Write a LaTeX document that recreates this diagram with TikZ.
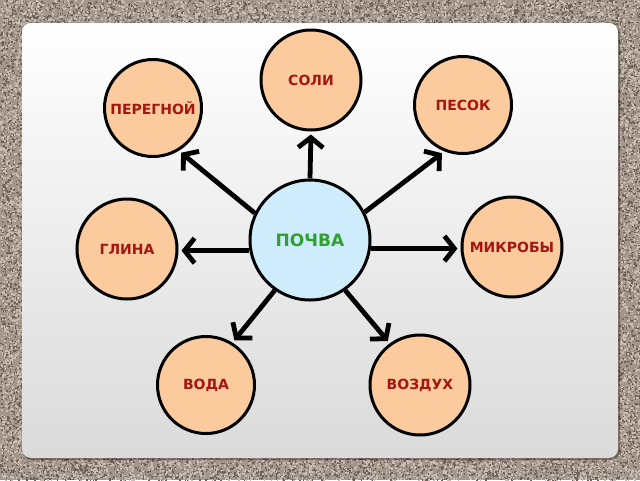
\documentclass[tikz,border=0pt]{standalone}
\usepackage{fontspec}
\setmainfont{DejaVu Sans}
\usetikzlibrary{arrows.meta}
\definecolor{bgbase}{RGB}{163,150,138}
\definecolor{bgdark}{RGB}{110,98,88}
\definecolor{bglight}{RGB}{200,190,180}
\definecolor{panelbot}{RGB}{218,218,218}
\definecolor{peach}{RGB}{251,203,158}
\definecolor{skyfill}{RGB}{206,236,251}
\definecolor{lblred}{RGB}{165,22,18}
\definecolor{lblgreen}{RGB}{48,160,48}
\newcommand\mynoise[6]{%
  \foreach \i in {1,...,#5}{%
    \pgfmathsetmacro\xx{#1+rnd*#3}%
    \pgfmathsetmacro\yy{#2+rnd*#4}%
    \fill[#6] (\xx,\yy) rectangle ++(1.6,1.6);}}
\begin{document}
\begin{tikzpicture}[x=1pt,y=-1pt,
  leaf/.style={circle, draw=black, line width=3pt, fill=peach, minimum size=97pt,
    inner sep=0pt, text=lblred, font=\bfseries\fontsize{14}{15}\selectfont},
  hub/.style={circle, draw=black, line width=3pt, fill=skyfill, minimum size=120pt,
    inner sep=0pt, text=lblgreen, font=\bfseries\fontsize{17}{18}\selectfont},
  conn/.style={draw=black, line width=4.8pt,
    -{Straight Barb[length=10pt,width=25pt,sep=3pt]}}]
\useasboundingbox (0,0) rectangle (640,480);
\fill[bgbase] (0,0) rectangle (640,480);
\pgfmathsetseed{12}
\mynoise{0}{0}{640}{24}{1600}{bgdark}
\mynoise{0}{0}{640}{24}{1600}{bglight}
\mynoise{0}{457}{640}{23}{1600}{bgdark}
\mynoise{0}{457}{640}{23}{1600}{bglight}
\mynoise{0}{24}{22}{433}{1000}{bgdark}
\mynoise{0}{24}{22}{433}{1000}{bglight}
\mynoise{618}{24}{22}{433}{1000}{bgdark}
\mynoise{618}{24}{22}{433}{1000}{bglight}
\fill[black, opacity=0.35, rounded corners=9pt] (23,25) rectangle (620,460);
\shade[top color=white, bottom color=panelbot, rounded corners=9pt] (22,23) rectangle (618,458);
% nodes
\node[hub] (pochva) at (310,240) {ПОЧВА};
\node[leaf, minimum size=100pt] (soli) at (311,80) {СОЛИ};
\node[leaf] (peregnoy) at (153,108) {ПЕРЕГНОЙ};
\node[leaf] (pesok) at (463,105) {ПЕСОК};
\node[leaf, minimum size=100pt] (glina) at (127,249) {ГЛИНА};
\node[leaf, minimum size=100pt] (mikroby) at (512,247) {МИКРОБЫ};
\node[leaf] (voda) at (206,385) {ВОДА};
\node[leaf, minimum size=100pt] (vozduh) at (420,385) {ВОЗДУХ};
% connectors
\draw[conn] (pochva.90) -- (soli.270);
\draw[conn] (pochva.154) -- (peregnoy.301);
\draw[conn] (pochva.27) -- (pesok.248);
\draw[conn] (pochva.190) -- (pochva.190 -| glina.east);
\draw[conn] (pochva.-8) -- (pochva.-8 -| mikroby.west);
\draw[conn] (pochva.235) -- (voda.58);
\draw[conn] (pochva.305) -- (vozduh.126);
\end{tikzpicture}
\end{document}
